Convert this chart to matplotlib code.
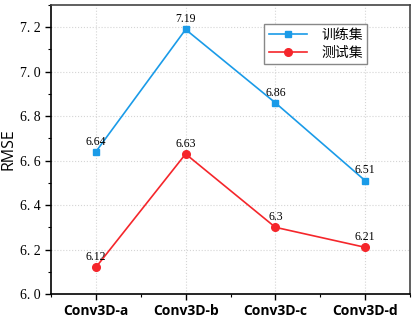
import matplotlib
matplotlib.use("Agg")
import matplotlib.pyplot as plt
from matplotlib.ticker import MultipleLocator

plt.rcParams['font.family'] = ['Liberation Serif', 'Noto Sans CJK SC']

modelos = ['Conv3D-a', 'Conv3D-b', 'Conv3D-c', 'Conv3D-d']
entrenamiento = [6.64, 7.19, 6.86, 6.51]
prueba = [6.12, 6.63, 6.30, 6.21]
etiquetas_prueba = ['6.12', '6.63', '6.3', '6.21']

fig = plt.figure(figsize=(4.15, 3.18), dpi=100)
ax = fig.add_axes([51/415, 1 - 294/318, (410 - 51)/415, (294 - 5)/318])

x = range(len(modelos))
ax.plot(x, entrenamiento, color='#1a9be8', marker='s', markersize=5, lw=1.2, label='训练集', zorder=3)
ax.plot(x, prueba, color='#f5262b', marker='o', markersize=5.5, lw=1.2, label='测试集', zorder=3)

for i, v in enumerate(entrenamiento):
    ax.annotate(f'{v:.2f}', (i, v), xytext=(0, 3), textcoords='offset points',
                ha='center', va='bottom', fontsize=8.5)
for i, v in enumerate(prueba):
    ax.annotate(etiquetas_prueba[i], (i, v), xytext=(0, 3), textcoords='offset points',
                ha='center', va='bottom', fontsize=8.5)

ax.set_xlim(-0.5, 3.5)
ax.set_ylim(6.0, 7.3)
ax.set_xticks(list(x))
ax.set_xticklabels(modelos, fontdict={'family': 'Open Sans', 'weight': 'bold', 'size': 10})
ax.xaxis.set_minor_locator(MultipleLocator(0.5))
ax.yaxis.set_major_locator(MultipleLocator(0.2))
ax.yaxis.set_minor_locator(MultipleLocator(0.1))
ax.set_yticks([6.0, 6.2, 6.4, 6.6, 6.8, 7.0, 7.2])
ax.set_yticklabels(['6. 0', '6. 2', '6. 4', '6. 6', '6. 8', '7. 0', '7. 2'], fontsize=10)
ax.set_ylabel('RMSE', fontdict={'family': 'Open Sans', 'size': 11.5})
ax.yaxis.set_label_coords(-0.095, 0.5)

ax.tick_params(which='major', direction='out', length=4, width=1)
ax.tick_params(which='minor', direction='out', length=2.5, width=0.8)
ax.tick_params(axis='x', which='both', top=False)
ax.tick_params(axis='y', which='both', right=False)
ax.grid(True, which='major', linestyle=':', color='#d5d5d5', lw=0.8)

for lado in ['left', 'bottom']:
    ax.spines[lado].set_linewidth(1.2)
for lado in ['top', 'right']:
    ax.spines[lado].set_color('#444444')
    ax.spines[lado].set_linewidth(1.2)

leg = ax.legend(loc='upper right', bbox_to_anchor=(0.9, 0.96), prop={'family': 'Noto Sans CJK SC', 'size': 10},
                fancybox=False, edgecolor='#888888', framealpha=1, handlelength=2.8,
                borderpad=0.3, labelspacing=0.3, handletextpad=1.0)
leg.get_frame().set_linewidth(1)

plt.savefig('out.png', dpi=100)
